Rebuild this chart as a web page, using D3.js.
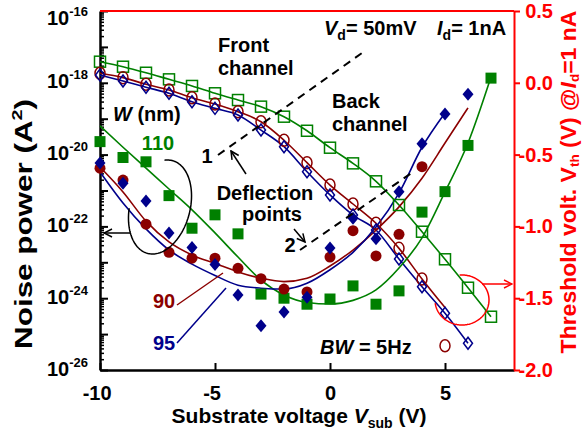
<!DOCTYPE html>
<html><head><meta charset="utf-8">
<script src="https://cdn.jsdelivr.net/npm/d3@7"></script>
<style>
body{margin:0;background:#fff}
svg{display:block}
text{font-family:"Liberation Sans",Arial,sans-serif;font-weight:bold}
</style>
</head><body>
<svg id="c" width="582" height="440"></svg>
<script>
// ---------------- data ----------------
const vsub = [-10,-9,-8,-7,-6,-5,-4,-3,-2,-1,0,1,2,3,4,5,6,7];
const xTicks = [-10,-5,0,5];
const rightTicks = [-2.0,-1.5,-1.0,-0.5,0.0,0.5];
const leftLabelDecades = [-26,-24,-22,-20,-18,-16];
const widthLabels = ["110","90","95"];

// Noise power (A^2), filled markers
const noise110 = [2.3e-20,8.3e-21,6.3e-21,7.2e-22,8.9e-23,2.1e-22,6.2e-23,1.3e-24,1.0e-24,6.8e-25,9.5e-25,2.2e-24,6.8e-25,1.6e-24,2.5e-22,9.3e-22,1.8e-20,1.35e-18];
const noise90  = [4.2e-21,1.95e-21,1.15e-22,1.9e-23,1.3e-23,1.3e-23,6.8e-24,3.5e-24,1.8e-24,1.5e-24,1.4e-23,7.6e-23,1.5e-23,6.0e-23,4.6e-21];
const noise95  = [5.8e-21,1.6e-21,5.1e-22,6.6e-23,2.6e-23,8.7e-24,1.23e-24,1.7e-25,4.1e-25,1.07e-24,2.5e-23,1.7e-22,4.5e-23,9.3e-22,2.0e-20,1.35e-19,4.8e-19];
// fitted noise curves
const fit110 = [6.3e-20,1.6e-20,4.2e-21,1.1e-21,2.9e-22,6.6e-23,1.4e-23,3.2e-24,1.23e-24,7.6e-25,6.9e-25,8.7e-25,1.7e-24,6.9e-24,4.8e-23,9.1e-22,2.1e-20,1.45e-18];
const fit90  = [4.5e-21,9.1e-22,1.4e-22,3.7e-23,1.6e-23,9.3e-24,5.4e-24,3.6e-24,2.9e-24,3.6e-24,7.9e-24,2.2e-23,7.9e-23,3.5e-22,2.2e-21,2.1e-20,2.0e-19];
const fit95  = [3.3e-21,4.5e-22,8.5e-23,2.2e-23,8.9e-24,4.3e-24,2.3e-24,1.9e-24,1.8e-24,2.6e-24,6.2e-24,1.9e-23,9.6e-23,8.5e-22,1.6e-20,1.45e-19];

// Threshold voltage (V), open markers
const vth110 = [0.147,0.112,0.070,0.024,-0.022,-0.073,-0.120,-0.166,-0.236,-0.334,-0.452,-0.561,-0.686,-0.851,-1.037,-1.229,-1.427,-1.629];
const vth90  = [0.066,0.036,-0.010,-0.050,-0.104,-0.148,-0.201,-0.271,-0.400,-0.556,-0.712,-0.844,-0.978,-1.153,-1.366,-1.831];
const vth90Fit = [0.066,0.036,-0.010,-0.050,-0.104,-0.148,-0.201,-0.271,-0.400,-0.556,-0.712,-0.844,-0.978,-1.153,-1.366,-1.565];
const vth95  = [0.054,0.013,-0.031,-0.073,-0.132,-0.178,-0.224,-0.329,-0.445,-0.619,-0.781,-0.921,-1.025,-1.227,-1.420,-1.605,-1.814];

// ---------------- setup ----------------
const GREEN="#008000", MAROON="#8b0000", NAVY="#00008b", RED="#ff0000";
const svg = d3.select("#c");
const L=100, R=514, T=11, B=370;
const x = d3.scaleLinear().domain([-10,8]).range([L,R]);
const yL = d3.scaleLog().domain([1e-26,1e-16]).range([B,T]);
const yR = d3.scaleLinear().domain([-2,0.5]).range([B,T]);

const defs = svg.append("defs");
function arrowMarker(id,color){
  defs.append("marker").attr("id",id).attr("viewBox","0 0 10 10").attr("refX",9).attr("refY",5)
    .attr("markerWidth",10).attr("markerHeight",10).attr("markerUnits","userSpaceOnUse").attr("orient","auto")
    .append("path").attr("d","M1,1 L9,5 L1,9").attr("fill","none").attr("stroke",color).attr("stroke-width",1.5);
}
arrowMarker("ahk","#000"); arrowMarker("ahr",RED);

function fitText(sel,target){
  const w=sel.node().getComputedTextLength();
  const tr=sel.attr("transform")||"";
  sel.attr("transform",tr+` scale(${target/w},1)`);
}

// ---------------- axes ----------------
const minorVals=[];
for(let e=-26;e<-16;e++){for(let m=2;m<=9;m++) minorVals.push(m*Math.pow(10,e));}
const decades=d3.range(-26,-15).map(e=>Math.pow(10,e));
svg.append("g").attr("transform",`translate(${L},0)`)
  .call(d3.axisLeft(yL).tickValues(minorVals).tickSizeInner(-4).tickSizeOuter(0).tickFormat(""))
  .call(g=>g.select(".domain").remove())
  .selectAll("line").attr("stroke","#000").attr("stroke-width",1.5);
const gLeft = svg.append("g").attr("transform",`translate(${L},0)`)
  .call(d3.axisLeft(yL).tickValues(decades).tickSizeInner(-8).tickSizeOuter(0).tickPadding(12).tickFormat(""));
gLeft.select(".domain").attr("stroke","#000").attr("stroke-width",2.5);
gLeft.selectAll("line").attr("stroke","#000").attr("stroke-width",2);
gLeft.selectAll(".tick").each(function(d){
  const e=Math.round(Math.log10(d));
  if(!leftLabelDecades.includes(e)) return;
  const t=d3.select(this).select("text").attr("fill","#000").attr("font-size",20)
    .attr("y", e===-16 ? 6 : -2).attr("dy","0.35em").attr("x",-12).attr("text-anchor","end");
  t.append("tspan").text("10");
  t.append("tspan").attr("font-size",13).attr("dy",-9).text(String(e));
});

// bottom axis
const gB = svg.append("g").attr("transform",`translate(0,${B})`)
  .call(d3.axisBottom(x).tickValues(xTicks).tickSizeInner(-7).tickSizeOuter(0).tickPadding(16).tickFormat(d=>String(d)));
gB.select(".domain").attr("stroke","#000").attr("stroke-width",2.5);
gB.selectAll("line").attr("stroke","#000").attr("stroke-width",2);
gB.selectAll("text").attr("fill","#000").attr("font-size",20).attr("font-family",null)
  .attr("dx",d=>d<0?"-0.17em":null);

// right axis
const gR = svg.append("g").attr("transform",`translate(${R},0)`)
  .call(d3.axisRight(yR).tickValues(rightTicks).tickSizeInner(6).tickSizeOuter(0).tickPadding(8).tickFormat(d=>d.toFixed(1)));
gR.select(".domain").attr("stroke",RED).attr("stroke-width",2);
gR.selectAll("line").attr("stroke",RED).attr("stroke-width",2);
gR.selectAll("text").attr("fill",RED).attr("font-size",20).attr("font-family",null).attr("text-anchor","end").attr("x",39);

// top border (red)
svg.append("line").attr("x1",x(-10)).attr("x2",x(8)).attr("y1",yR(0.5)).attr("y2",yR(0.5)).attr("stroke",RED).attr("stroke-width",2);

// axis titles
const yt = svg.append("text").attr("transform","translate(32,224) rotate(-90)").attr("text-anchor","middle").attr("font-size",24).attr("fill","#000");
yt.append("tspan").text("Noise power (A");
yt.append("tspan").attr("font-size",15).attr("dy",-10).text("2");
yt.append("tspan").attr("dy",10).text(")");
fitText(yt,250);

const xt = svg.append("text").attr("transform","translate(299,423)").attr("text-anchor","middle").attr("font-size",21).attr("fill","#000");
xt.append("tspan").text("Substrate voltage ");
xt.append("tspan").attr("font-style","italic").text("V");
xt.append("tspan").attr("font-size",14).attr("dy",5).text("sub");
xt.append("tspan").attr("dy",-5).text(" (V)");
fitText(xt,255);

const rt = svg.append("text").attr("transform","translate(576,182) rotate(-90)").attr("text-anchor","middle").attr("font-size",22).attr("fill",RED);
rt.append("tspan").text("Threshold volt. V");
rt.append("tspan").attr("font-size",13).attr("dy",3).text("th");
rt.append("tspan").attr("dy",-3).text(" (V) @");
rt.append("tspan").attr("font-style","italic").text("I");
rt.append("tspan").attr("font-size",13).attr("dy",3).text("d");
rt.append("tspan").attr("dy",-3).text("=1 nA");
fitText(rt,343);

// ---------------- curves ----------------
const plot = svg.append("g");
function noiseLine(vals,color){
  plot.append("path").datum(vals.map((v,i)=>[vsub[i],v]))
    .attr("d",d3.line().x(d=>x(d[0])).y(d=>yL(d[1])).curve(d3.curveMonotoneX))
    .attr("fill","none").attr("stroke",color).attr("stroke-width",1.6);
}
function vthLine(vals,color){
  plot.append("path").datum(vals.map((v,i)=>[vsub[i],v]))
    .attr("d",d3.line().x(d=>x(d[0])).y(d=>yR(d[1])).curve(d3.curveMonotoneX))
    .attr("fill","none").attr("stroke",color).attr("stroke-width",1.6);
}
vthLine(vth110,GREEN); vthLine(vth90Fit,MAROON); vthLine(vth95,NAVY);
noiseLine(fit110,GREEN); noiseLine(fit90,MAROON); noiseLine(fit95,NAVY);

// ---------------- markers ----------------
const diamondFilled="M0,-6.5L5.5,0L0,6.5L-5.5,0Z";
const diamondOpen="M0,-6L4.5,0L0,6L-4.5,0Z";
function pts(vals){return vals.map((v,i)=>[vsub[i],v]);}
plot.append("g").selectAll("rect").data(pts(vth110)).join("rect")
  .attr("x",d=>x(d[0])-5.5).attr("y",d=>yR(d[1])-5.5).attr("width",11).attr("height",11)
  .attr("fill","none").attr("stroke",GREEN).attr("stroke-width",1.5);
plot.append("g").selectAll("ellipse").data(pts(vth90)).join("ellipse")
  .attr("cx",d=>x(d[0])).attr("cy",d=>yR(d[1])).attr("rx",5).attr("ry",6)
  .attr("fill","none").attr("stroke",MAROON).attr("stroke-width",1.5);
plot.append("g").selectAll("path").data(pts(vth95)).join("path")
  .attr("transform",d=>`translate(${x(d[0])},${yR(d[1])})`).attr("d",diamondOpen)
  .attr("fill","none").attr("stroke",NAVY).attr("stroke-width",1.5);
plot.append("g").selectAll("rect").data(pts(noise110)).join("rect")
  .attr("x",d=>x(d[0])-5.5).attr("y",d=>yL(d[1])-5.5).attr("width",11).attr("height",11).attr("fill",GREEN);
plot.append("g").selectAll("circle").data(pts(noise90)).join("circle")
  .attr("cx",d=>x(d[0])).attr("cy",d=>yL(d[1])).attr("r",5.5).attr("fill",MAROON);
plot.append("g").selectAll("path").data(pts(noise95)).join("path")
  .attr("transform",d=>`translate(${x(d[0])},${yL(d[1])})`).attr("d",diamondFilled).attr("fill",NAVY);

// ---------------- annotations ----------------
const ann = svg.append("g");
function txt(xp,yp,opt={}){
  const t=ann.append("text").attr("x",xp).attr("y",yp).attr("font-size",opt.fs||20).attr("fill",opt.fill||"#000");
  if(opt.anchor) t.attr("text-anchor",opt.anchor);
  return t;
}
txt(218,52).text("Front");
txt(218,75).text("channel");
txt(332,108).text("Back");
txt(332,131).text("channel");
let t=txt(324,35); t.append("tspan").attr("font-style","italic").text("V"); t.append("tspan").attr("font-size",14).attr("dy",5).text("d"); t.append("tspan").attr("dy",-5).text("= 50mV");
t=txt(437,35); t.append("tspan").attr("font-style","italic").text("I"); t.append("tspan").attr("font-size",14).attr("dy",5).text("d"); t.append("tspan").attr("dy",-5).text("= 1nA");
t=txt(113,121); t.append("tspan").attr("font-style","italic").text("W"); t.append("tspan").text(" (nm)");
txt(158,150,{fill:GREEN,anchor:"middle"}).text(widthLabels[0]);
txt(164,308,{fill:MAROON,anchor:"middle"}).text(widthLabels[1]);
txt(164,350,{fill:NAVY,anchor:"middle"}).text(widthLabels[2]);
txt(265,200,{anchor:"middle"}).text("Deflection");
txt(272,221,{anchor:"middle"}).text("points");
txt(207,163,{anchor:"middle"}).text("1");
txt(290,252,{anchor:"middle"}).text("2");
t=txt(320,354); t.append("tspan").attr("font-style","italic").text("BW"); t.append("tspan").text(" = 5Hz");

ann.append("line").attr("x1",218).attr("y1",155).attr("x2",362).attr("y2",53).attr("stroke","#000").attr("stroke-width",2).attr("stroke-dasharray","8,6");
ann.append("line").attr("x1",300).attr("y1",250).attr("x2",413).attr("y2",172).attr("stroke","#000").attr("stroke-width",2).attr("stroke-dasharray","8,6");
ann.append("line").attr("x1",246).attr("y1",174).attr("x2",231).attr("y2",151).attr("stroke","#000").attr("stroke-width",1.5).attr("marker-end","url(#ahk)");
ann.append("line").attr("x1",294).attr("y1",229).attr("x2",305).attr("y2",242).attr("stroke","#000").attr("stroke-width",1.5).attr("marker-end","url(#ahk)");
ann.append("line").attr("x1",177).attr("y1",305).attr("x2",223).attr("y2",273).attr("stroke",MAROON).attr("stroke-width",1.5);
ann.append("line").attr("x1",177).attr("y1",343).attr("x2",226).attr("y2",288).attr("stroke",NAVY).attr("stroke-width",1.5);

function ellArc(cx,cy,rx,ry,rot,t0,t1,color){
  const a=rot*Math.PI/180, ts=d3.range(t0,t1+0.5,2);
  const p=ts.map(tt=>{const r=tt*Math.PI/180, ex=rx*Math.cos(r), ey=ry*Math.sin(r);
    return [cx+ex*Math.cos(a)-ey*Math.sin(a), cy+ex*Math.sin(a)+ey*Math.cos(a)];});
  ann.append("path").attr("d",d3.line()(p)).attr("fill","none").attr("stroke",color).attr("stroke-width",1.5);
}
ellArc(160,207,30,48,15,255,530,"#000");
ann.append("line").attr("x1",130).attr("y1",233).attr("x2",104).attr("y2",233).attr("stroke","#000").attr("stroke-width",1.5).attr("marker-end","url(#ahk)");
ellArc(462,300,27,25,0,-95,174,RED);
ann.append("line").attr("x1",482).attr("y1",284).attr("x2",512).attr("y2",284).attr("stroke",RED).attr("stroke-width",1.5).attr("marker-end","url(#ahr)");
</script>
</body></html>
